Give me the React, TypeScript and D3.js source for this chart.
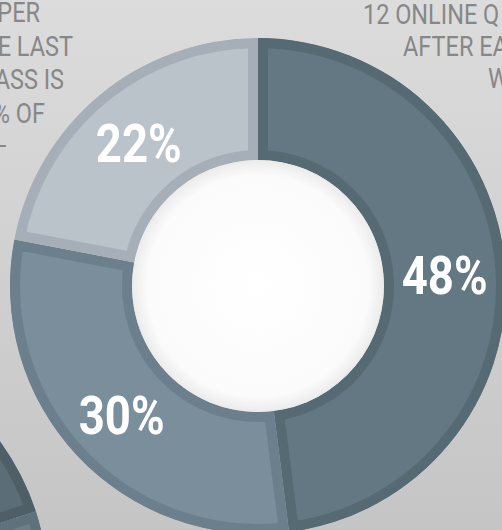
import { useRef, useEffect } from "react";
import * as d3 from "d3";

const W = 502;
const H = 530;

// main donut
const labels = ["48%", "30%", "22%"];
const values = [48, 30, 22];
const fills = ["#637882", "#7a8f9b", "#bac3ca"];
const borders = ["#566a74", "#6b808c", "#a6afb7"];

// neighbouring donut, only its edge shows at bottom left
const sideValues = [20, 80];
const sideFills = ["#5b6d76", "#6d8089"];
const sideBorders = ["#4e5f68", "#5f727b"];

// text fragments cut off by the crop
const leftLines = ["PER", "E LAST", "ASS IS", "% OF", "–"];
const leftEnds = [40, 73, 64, 45, 8];
const rightLines = ["12 ONLINE Q", "AFTER EA", "W"];
const rightStarts = [363, 403, 488];

export default function App() {
  const svgRef = useRef<SVGSVGElement>(null);

  useEffect(() => {
    if (!svgRef.current) return;
    const svg = d3.select(svgRef.current);
    svg.selectAll("*").remove();

    const defs = svg.append("defs");
    const bg = defs
      .append("linearGradient")
      .attr("id", "bg")
      .attr("x1", 0)
      .attr("y1", 0)
      .attr("x2", 0)
      .attr("y2", 1);
    bg.append("stop").attr("offset", "0%").attr("stop-color", "#dcdcdc");
    bg.append("stop").attr("offset", "100%").attr("stop-color", "#c5c5c5");
    const hole = defs.append("radialGradient").attr("id", "hole");
    hole.append("stop").attr("offset", "0%").attr("stop-color", "#ffffff");
    hole.append("stop").attr("offset", "88%").attr("stop-color", "#fbfbfb");
    hole.append("stop").attr("offset", "100%").attr("stop-color", "#ebebeb");

    svg.append("rect").attr("width", W).attr("height", H).attr("fill", "url(#bg)");

    const outerR = 248;
    const innerR = 126;
    const pie = d3.pie<number>().sort(null).value((d) => d);
    const arc = d3
      .arc<d3.PieArcDatum<number>>()
      .innerRadius(innerR)
      .outerRadius(outerR);

    // draws a ring whose segments carry an inset border (stroke clipped to the shape)
    function ring(
      x: number,
      y: number,
      vals: number[],
      fl: string[],
      bd: string[],
      id: string
    ) {
      const g = svg.append("g").attr("transform", `translate(${x},${y})`);
      const arcs = pie(vals);
      arcs.forEach((a, i) => {
        const d = arc(a) as string;
        defs.append("clipPath").attr("id", `${id}${i}`).append("path").attr("d", d);
        g.append("path")
          .attr("d", d)
          .attr("fill", fl[i])
          .attr("stroke", bd[i])
          .attr("stroke-width", 20)
          .attr("clip-path", `url(#${id}${i})`);
      });
      return arcs;
    }

    ring(-200, 588, sideValues, sideFills, sideBorders, "s");

    const cx = 258;
    const cy = 286;
    const arcs = ring(cx, cy, values, fills, borders, "m");
    svg
      .append("circle")
      .attr("cx", cx)
      .attr("cy", cy)
      .attr("r", innerR)
      .attr("fill", "url(#hole)");

    arcs.forEach((a, i) => {
      const [lx, ly] = arc.centroid(a);
      svg
        .append("text")
        .attr("transform", `translate(${cx + lx},${cy + ly + 1}) scale(0.86,1)`)
        .attr("text-anchor", "middle")
        .attr("dy", "0.36em")
        .attr("font-family", "Roboto, sans-serif")
        .attr("font-weight", 700)
        .attr("font-size", 53)
        .attr("fill", "#ffffff")
        .text(labels[i]);
    });

    const txt = svg
      .append("g")
      .attr("font-family", "Roboto, sans-serif")
      .attr("font-size", 27)
      .attr("fill", "#878787");
    leftLines.forEach((s, i) => {
      txt
        .append("text")
        .attr("transform", `translate(${leftEnds[i]},${22 + i * 33.5}) scale(0.87,1)`)
        .attr("text-anchor", "end")
        .text(s);
    });
    rightLines.forEach((s, i) => {
      txt
        .append("text")
        .attr("transform", `translate(${rightStarts[i]},${24 + i * 32}) scale(0.87,1)`)
        .attr("text-anchor", "start")
        .text(s);
    });
  }, []);

  return (
    <svg
      ref={svgRef}
      width={W}
      height={H}
      style={{ position: "absolute", left: 0, top: 0, display: "block" }}
    />
  );
}
